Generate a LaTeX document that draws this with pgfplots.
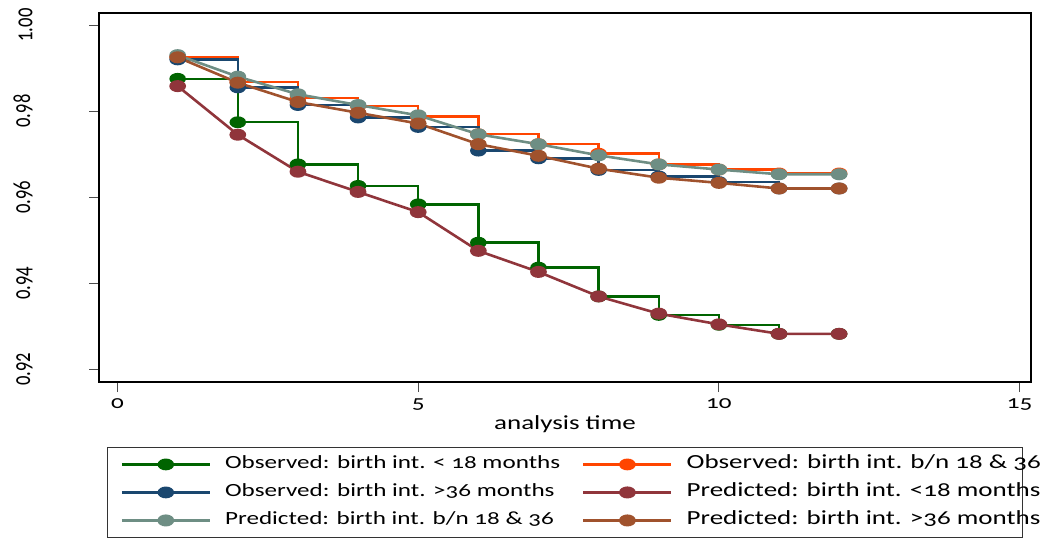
\documentclass[border=0pt]{standalone}
\usepackage{fontspec}
\setmainfont{Carlito}[Numbers=OldStyle, FakeStretch=1.35]
\newfontfamily\yfont{Carlito}[Numbers=OldStyle]
\usepackage{pgfplots}
\pgfplotsset{compat=1.18}
\definecolor{cgreen}{RGB}{0,100,0}
\definecolor{corange}{RGB}{255,69,0}
\definecolor{cnavy}{RGB}{26,71,111}
\definecolor{cmaroon}{RGB}{144,53,59}
\definecolor{cteal}{RGB}{110,142,132}
\definecolor{csienna}{RGB}{160,82,45}
\pgfplotstableread{
t obslt18 obsbn obsgt36 predlt18 predbn predgt36
1  0.9875 0.9926 0.9920 0.9858 0.9930 0.9925
2  0.9774 0.9868 0.9855 0.9745 0.9880 0.9866
3  0.9676 0.9831 0.9814 0.9659 0.9839 0.9821
4  0.9626 0.9812 0.9785 0.9612 0.9814 0.9796
5  0.9583 0.9787 0.9763 0.9565 0.9790 0.9771
6  0.9494 0.9746 0.9708 0.9475 0.9746 0.9723
7  0.9436 0.9723 0.9690 0.9426 0.9723 0.9696
8  0.9369 0.9701 0.9663 0.9369 0.9697 0.9666
9  0.9326 0.9676 0.9648 0.9329 0.9676 0.9645
10 0.9303 0.9664 0.9635 0.9304 0.9664 0.9633
11 0.9282 0.9655 0.9620 0.9282 0.9653 0.9620
12 0.9282 0.9655 0.9620 0.9282 0.9653 0.9620
}\data
\newcommand\colA[1]{\makebox[352pt][l]{#1}}
\newcommand\colB[1]{\makebox[323pt][l]{\fontsize{20}{22}\selectfont #1}}
\begin{document}
\fontsize{18.6}{22}\selectfont
\begin{tikzpicture}
\begin{axis}[
 scale only axis, width=932pt, height=369pt,
 xmin=-0.308, xmax=15.19, ymin=0.917, ymax=1.0028,
 xtick={0,5,10,15}, ytick={0.92,0.94,0.96,0.98,1.00},
 tick pos=left, tick align=outside, major tick length=10pt,
 tick style={line width=1pt, black!70},
 axis line style={line width=1.2pt, black},
 /pgf/number format/assume math mode=true,
 xticklabel={\pgfmathprintnumber{\tick}},
 yticklabel={\scalebox{1}[1.4]{\yfont\pgfmathprintnumber[fixed,fixed zerofill,precision=2]{\tick}}},
 yticklabel style={rotate=90, anchor=south},
 yticklabel shift=50pt,
 font=\fontsize{18.6}{22}\selectfont,
 xlabel={analysis time},
 xlabel style={font=\fontsize{20}{24}\selectfont, at={(axis description cs:0.5,-0.114)}, anchor=center},
 legend columns=2,
 legend image code/.code={\draw[mark repeat=2,mark phase=2,#1] plot coordinates {(0pt,0pt) (44pt,0pt) (88pt,0pt)};},
 legend style={at={(0.0086,-0.176)}, anchor=north west, draw=black!80, line width=1pt,
   inner xsep=13pt, inner ysep=8.5pt,
   nodes={inner sep=0pt, text height=13pt, text depth=4pt, anchor=west},
   /tikz/every odd column/.append style={column sep=14pt},
   /tikz/every even column/.append style={column sep=5pt},
   row sep=11pt, font=\fontsize{18.6}{22}\selectfont},
 every axis plot/.append style={mark=*, mark size=4.7pt, mark options={xscale=1.5, solid}},
]
\addplot[const plot, color=cgreen, line width=2.4pt] table[x=t, y=obslt18] {\data};
\addlegendentry{\colA{Observed: birth int. < 18 months}}
\addplot[const plot, color=corange, line width=2.4pt] table[x=t, y=obsbn] {\data};
\addlegendentry{\colB{Observed: birth int. b/n 18 \& 36}}
\addplot[const plot, color=cnavy, line width=2.4pt] table[x=t, y=obsgt36] {\data};
\addlegendentry{\colA{Observed: birth int. >36 months}}
\addplot[color=cmaroon, line width=2.6pt] table[x=t, y=predlt18] {\data};
\addlegendentry{\colB{Predicted: birth int. <18 months}}
\addplot[color=cteal, line width=2.6pt] table[x=t, y=predbn] {\data};
\addlegendentry{\colA{Predicted: birth int. b/n 18 \& 36}}
\addplot[color=csienna, line width=2.6pt] table[x=t, y=predgt36] {\data};
\addlegendentry{\colB{Predicted: birth int. >36 months}}
\coordinate (NE) at (rel axis cs:1,1);
\coordinate (SW) at (rel axis cs:0,0);
\end{axis}
\pgfresetboundingbox
\path ([xshift=-99pt,yshift=-157pt]SW) rectangle ([xshift=16pt,yshift=13pt]NE);
\end{tikzpicture}
\end{document}
